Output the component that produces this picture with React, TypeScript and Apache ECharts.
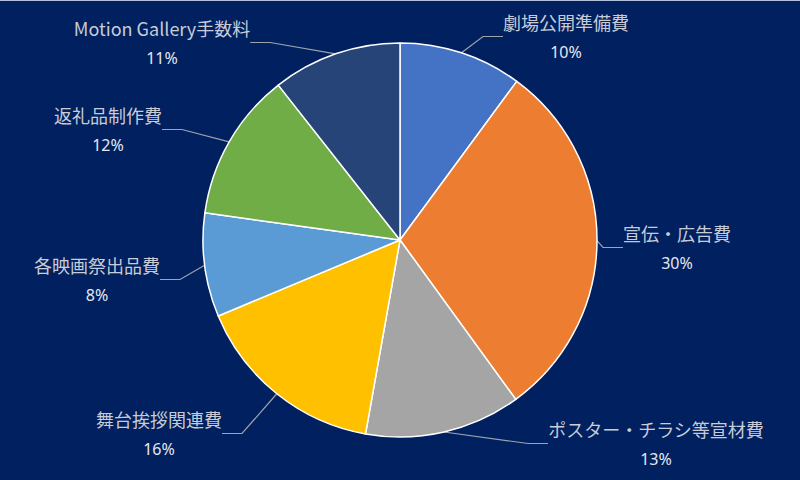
import React, { useEffect, useRef } from 'react';
import * as echarts from 'echarts';

// slice names, clockwise from 12 o'clock
const categories = [
  '劇場公開準備費',
  '宣伝・広告費',
  'ポスター・チラシ等宣材費',
  '舞台挨拶関連費',
  '各映画祭出品費',
  '返礼品制作費',
  'Motion Gallery手数料',
];

// shares (labels round them to whole percents)
const shares = [10.1, 29.9, 12.8, 15.9, 8.5, 12.2, 10.6];

const sliceColors = ['#4472C4', '#ED7D31', '#A5A5A5', '#FFC000', '#5B9BD5', '#70AD47', '#264478'];

// where each label block sits (centre of the two-line label)
const labelPos = [
  [566, 37],
  [677, 248],
  [656, 444],
  [159, 434],
  [97, 280],
  [108, 130],
  [162, 43],
];

const App: React.FC = () => {
  const chartRef = useRef<HTMLDivElement>(null);

  useEffect(() => {
    document.body.style.margin = '0';
    if (!chartRef.current) return;
    const chart = echarts.init(chartRef.current, null, { renderer: 'svg' });

    chart.setOption({
      animation: false,
      backgroundColor: '#00205F',
      graphic: [
        {
          type: 'rect',
          shape: { x: 0, y: 0, width: 800, height: 1 },
          style: { fill: '#B4C0DC' },
        },
      ],
      series: [
        {
          type: 'pie',
          center: [400, 240],
          radius: 197,
          startAngle: 90,
          clockwise: true,
          percentPrecision: 0,
          itemStyle: { borderColor: '#FFFFFF', borderWidth: 1.5 },
          label: {
            show: true,
            position: 'outside',
            formatter: '{n|{b}}\n{p|{d}%}',
            align: 'center',
            rich: {
              n: {
                fontSize: 18,
                color: '#C8CCD6',
                fontFamily: '"Noto Sans CJK JP", "Noto Sans", sans-serif',
                lineHeight: 30,
                align: 'center',
              },
              p: {
                fontSize: 16,
                color: '#E6E8EE',
                fontFamily: '"Noto Sans", sans-serif',
                lineHeight: 30,
                align: 'center',
              },
            },
          },
          labelLine: {
            show: true,
            length: 20,
            length2: 20,
            lineStyle: { color: '#9EA3AE', width: 1.2 },
          },
          labelLayout: (params: any) => {
            const p = labelPos[params.dataIndex];
            return {
              x: p[0],
              y: p[1],
              align: 'center',
              verticalAlign: 'middle',
            };
          },
          data: categories.map((name, i) => ({
            name,
            value: shares[i],
            itemStyle: { color: sliceColors[i] },
          })),
        },
      ],
    });

    return () => {
      chart.dispose();
    };
  }, []);

  return <div ref={chartRef} style={{ width: '800px', height: '480px' }} />;
};

export default App;
